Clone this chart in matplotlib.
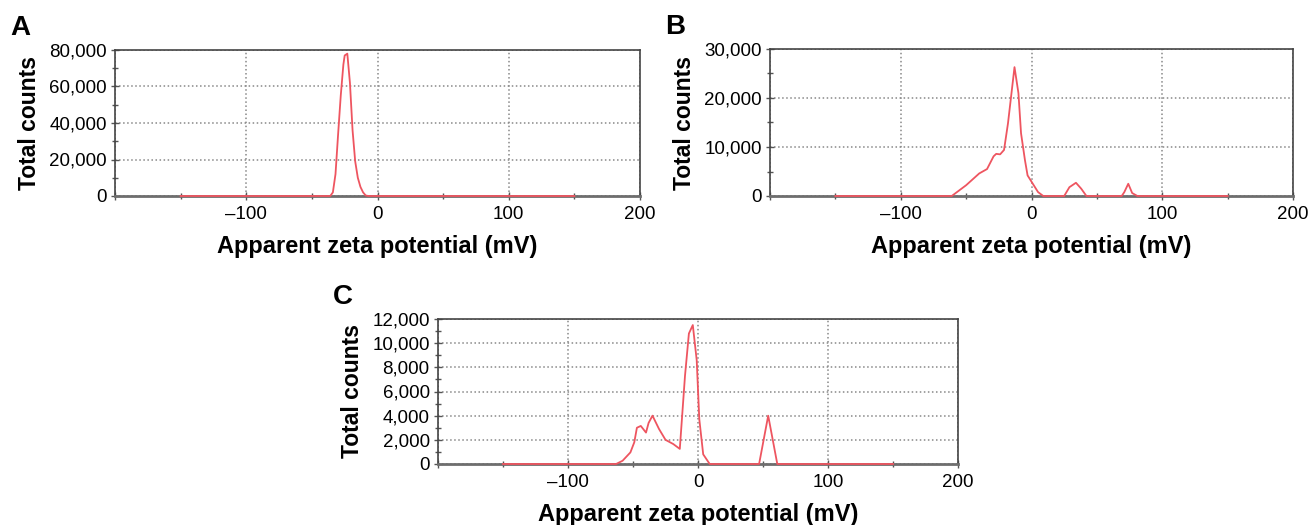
import matplotlib
matplotlib.use('Agg')
import matplotlib.pyplot as plt
from matplotlib.ticker import MultipleLocator, FuncFormatter

plt.rcParams['font.family'] = ['Liberation Sans', 'DejaVu Sans']

# panel A
a_zeta = [-150, -36, -34, -32, -30, -28, -26, -25, -23, -21, -19, -17, -15, -13, -11, -9, -7, 150]
a_counts = [0, 0, 2000, 12000, 34000, 55000, 72000, 77000, 78000, 62000, 36000, 19000, 10000,
            5000, 2000, 300, 0, 0]

# panel B
b_zeta = [-150, -61, -50, -40, -34, -29, -27, -24, -21, -18, -15, -13, -10, -8, -5, -3, 1, 5, 9,
          25, 29, 34, 38, 42, 69, 71, 74, 77, 81, 150]
b_counts = [0, 0, 2200, 4600, 5500, 8100, 8600, 8500, 9400, 14800, 21700, 26300, 21000, 12800,
            7300, 4200, 2500, 800, 0, 0, 1800, 2700, 1500, 0, 0, 800, 2500, 600, 0, 0]

# panel C
c_zeta = [-150, -63, -58, -52, -49, -47, -44, -40, -38, -35, -30, -25, -19, -14, -10, -7, -4, -1,
          1, 4, 9, 47, 54, 61, 150]
c_counts = [0, 0, 270, 960, 1800, 3000, 3150, 2600, 3400, 4000, 2900, 2000, 1650, 1250, 7300,
            10800, 11500, 8600, 3700, 800, 0, 0, 4000, 0, 0]

panels = [
    ('A', a_zeta, a_counts, 80000, 20000, 10000, [115, 50, 640, 196]),
    ('B', b_zeta, b_counts, 30000, 10000, 5000, [770, 49, 1293, 196]),
    ('C', c_zeta, c_counts, 12000, 2000, 1000, [438, 319, 958, 464]),
]

W, H = 1311, 525
fig = plt.figure(figsize=(W / 100, H / 100), dpi=100)

for letter, x, y, ymax, ymaj, ymin, box in panels:
    l, t, r, b = box
    ax = fig.add_axes([l / W, 1 - b / H, (r - l) / W, (b - t) / H])
    ax.plot(x, y, color='#ee5560', lw=1.3, zorder=3, clip_on=False)
    ax.set_xlim(-200, 200)
    ax.set_ylim(0, ymax)
    ax.xaxis.set_major_locator(MultipleLocator(100))
    ax.xaxis.set_minor_locator(MultipleLocator(50))
    ax.yaxis.set_major_locator(MultipleLocator(ymaj))
    ax.yaxis.set_minor_locator(MultipleLocator(ymin))
    ax.xaxis.set_major_formatter(FuncFormatter(
        lambda v, p: '' if v <= -200 else '{:g}'.format(v).replace('-', '\u2013')))
    ax.yaxis.set_major_formatter(FuncFormatter(lambda v, p: '{:,.0f}'.format(v)))
    ax.grid(True, which='major', ls=':', color='#888888', lw=1.1)
    ax.tick_params(which='both', direction='inout', color='#555555', labelsize=13.5,
                   width=1.0)
    ax.tick_params(which='major', length=6)
    ax.tick_params(which='minor', length=5)
    ax.tick_params(axis='x', pad=4)
    ax.tick_params(axis='y', pad=3)
    for s in ['top', 'right', 'left']:
        ax.spines[s].set_color('#444444')
        ax.spines[s].set_linewidth(1.2)
    ax.spines['bottom'].set_color('#6e6e6e')
    ax.spines['bottom'].set_linewidth(2.0)
    ax.set_xlabel('Apparent zeta potential (mV)', fontsize=17, fontweight='bold', labelpad=9)
    ax.set_ylabel('Total counts', fontsize=16.5, fontweight='bold', labelpad=6)
    fig.text((l - 105) / W, 1 - (t - 22) / H, letter, fontsize=20, fontweight='bold',
             ha='left', va='center')

fig.savefig('out.png', dpi=100)
